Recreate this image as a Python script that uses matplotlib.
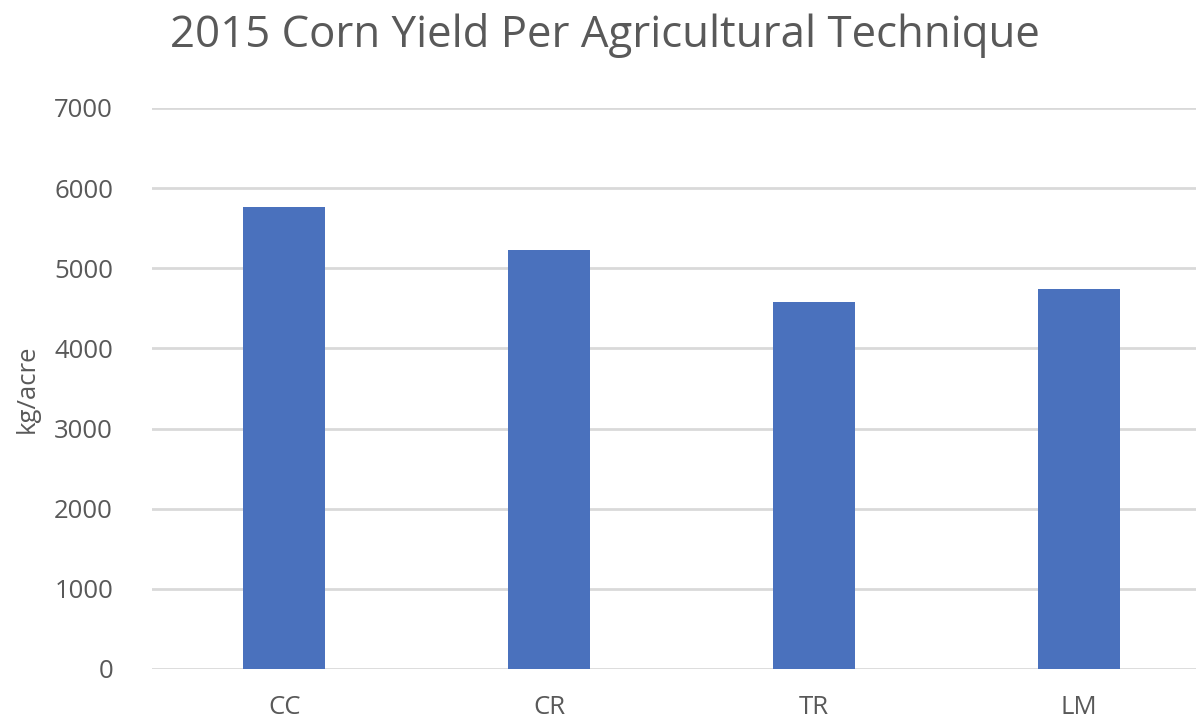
import matplotlib
matplotlib.use("Agg")
import matplotlib.pyplot as plt

techniques = ["CC", "CR", "TR", "LM"]
yield_kg_per_acre = [5770, 5230, 4580, 4740]
yticks = [0, 1000, 2000, 3000, 4000, 5000, 6000, 7000]

plt.rcParams['font.family'] = ['Open Sans', 'DejaVu Sans']
text_color = '#595959'

fig = plt.figure(figsize=(11.96, 7.22), dpi=100)
ax = fig.add_axes([152 / 1196, 1 - 669 / 722, 1059 / 1196, 561 / 722])

ax.bar(range(len(techniques)), yield_kg_per_acre, width=0.31, color='#4A71BD', zorder=3)

ax.set_xlim(-0.5, 3.5)
ax.set_ylim(0, 7000)
ax.set_yticks(yticks)
ax.set_yticklabels([str(t) for t in yticks], fontsize=18.5, color=text_color)
ax.set_xticks(range(len(techniques)))
ax.set_xticklabels(techniques, fontsize=18.5, color=text_color)
ax.tick_params(axis='both', length=0)
ax.tick_params(axis='y', pad=28)
ax.tick_params(axis='x', pad=19)

ax.grid(axis='y', color='#D9D9D9', linewidth=2, zorder=0)
for side in ['top', 'right', 'left', 'bottom']:
    ax.spines[side].set_visible(False)

ax.set_ylabel('kg/acre', fontsize=18.5, color=text_color, labelpad=10)
fig.text(170 / 1196, 1 - 35 / 722, '2015 Corn Yield Per Agricultural Technique',
         fontsize=31.5, color=text_color, ha='left', va='center')

fig.savefig('out.png', dpi=100)
